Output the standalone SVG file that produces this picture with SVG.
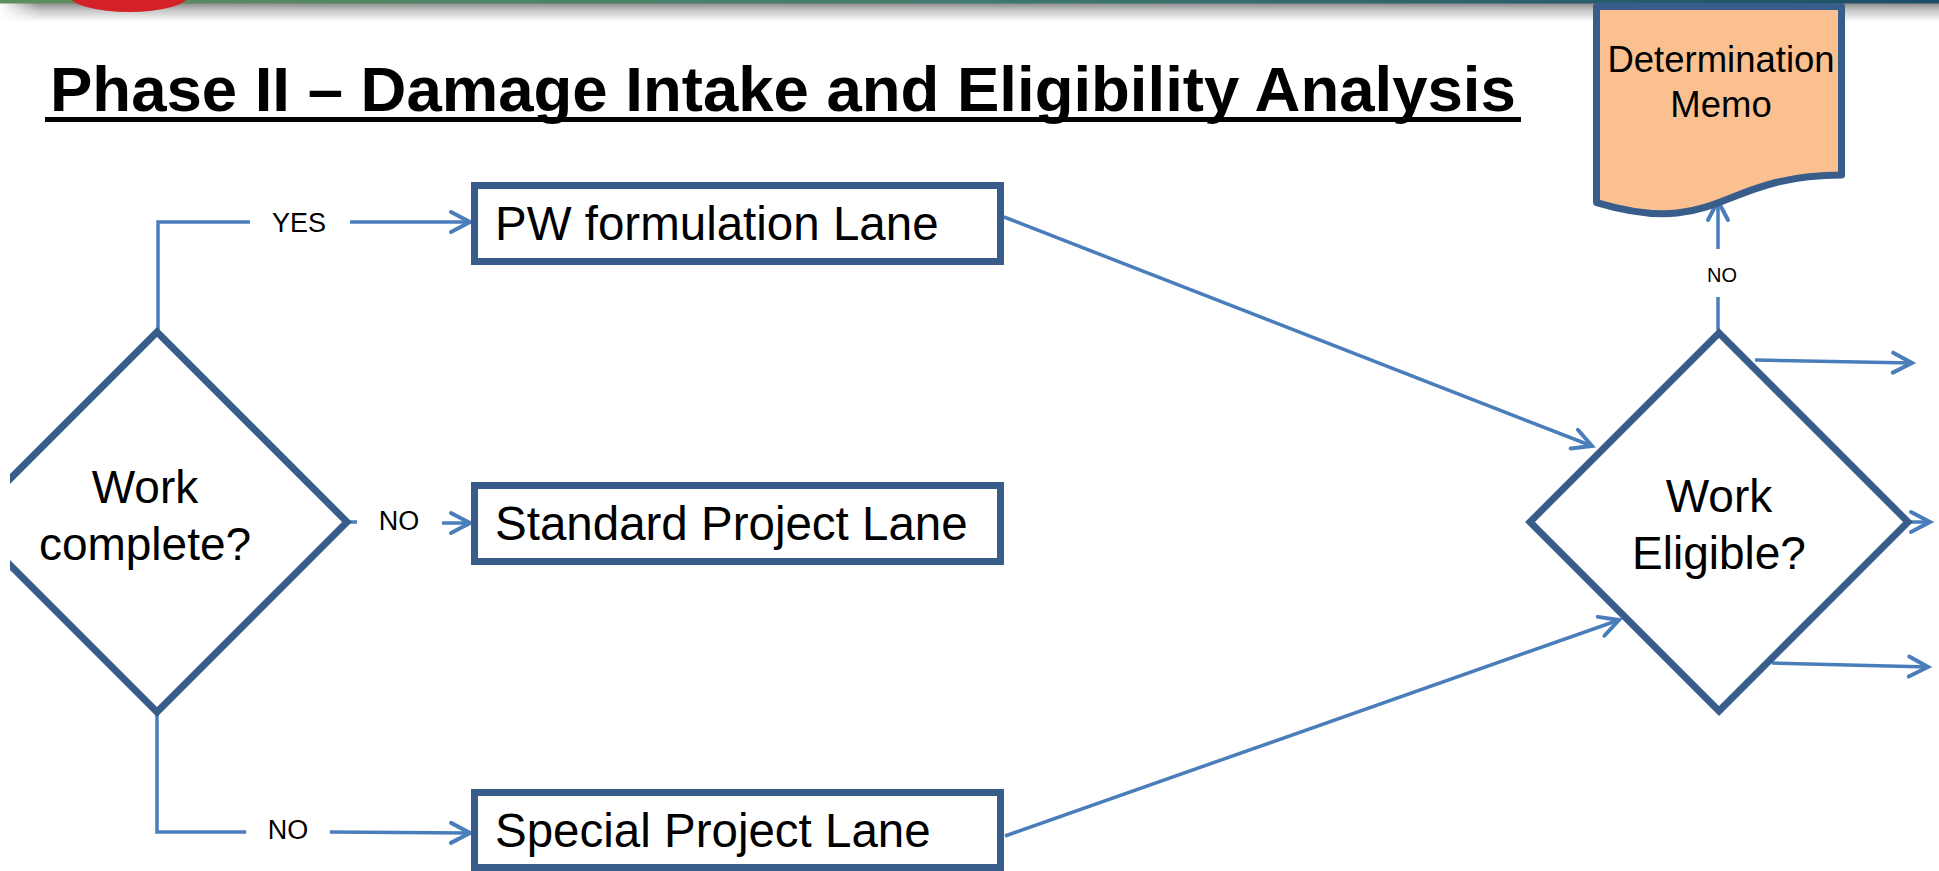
<svg xmlns="http://www.w3.org/2000/svg" width="1939" height="871" viewBox="0 0 1939 871">
<style>
.node{fill:#FFFFFF;stroke:#385D8A;stroke-width:7;stroke-linejoin:miter}
.doc{fill:#FAC090;stroke:#385D8A;stroke-width:7;stroke-linejoin:round}
.conn{fill:none;stroke:#4A7EBB;stroke-width:3.5}
.arr{marker-end:url(#open)}
.big{font-family:"Liberation Sans",Arial,sans-serif;font-size:47.5px;fill:#000}
.dia{font-family:"Liberation Sans",Arial,sans-serif;font-size:46px;fill:#000;text-anchor:middle}
.lbl{font-family:"Liberation Sans",Arial,sans-serif;font-size:27px;fill:#000;text-anchor:middle}
.memo{font-family:"Liberation Sans",Arial,sans-serif;font-size:36.5px;fill:#000;text-anchor:middle}
.title{font-family:"Liberation Sans",Arial,sans-serif;font-size:63.5px;font-weight:bold;fill:#000}
</style>
<defs>
<marker id="open" markerUnits="userSpaceOnUse" viewBox="-25 -15 30 30" markerWidth="30" markerHeight="30" refX="0" refY="0" orient="auto">
<path d="M-19,-10 L0,0 L-19,10" fill="none" stroke="#4A7EBB" stroke-width="4" stroke-linecap="round" stroke-linejoin="miter"/>
</marker>
<linearGradient id="bar" x1="0" y1="0" x2="1" y2="0">
<stop offset="0" stop-color="#5E8F5E"/>
<stop offset="0.5" stop-color="#3F7A6E"/>
<stop offset="1" stop-color="#1C4E68"/>
</linearGradient>
<linearGradient id="shadow" x1="0" y1="0" x2="0" y2="1">
<stop offset="0" stop-color="#8C8C8C"/>
<stop offset="0.4" stop-color="#C8C8C8"/>
<stop offset="1" stop-color="#FFFFFF"/>
</linearGradient>
<linearGradient id="shadowEdge" x1="0" y1="0" x2="1" y2="0">
<stop offset="0" stop-color="#FFFFFF" stop-opacity="1"/>
<stop offset="1" stop-color="#FFFFFF" stop-opacity="0"/>
</linearGradient>
<clipPath id="leftclip"><rect x="10" y="0" width="1929" height="871"/></clipPath>
</defs>
<rect x="0" y="0" width="1939" height="871" fill="#FFFFFF"/>
<g id="header">
<rect x="0" y="3" width="1939" height="19" fill="url(#shadow)"/>
<rect x="0" y="3" width="40" height="19" fill="url(#shadowEdge)"/>
<rect x="0" y="0" width="1939" height="3.5" fill="url(#bar)"/>
<ellipse cx="129" cy="-5" rx="60" ry="17" fill="#D42027"/>
</g>
<g id="title">
<text class="title" x="50" y="111">Phase II – Damage Intake and Eligibility Analysis</text>
<rect x="45" y="117" width="1476" height="5" fill="#000"/>
</g>
<g id="connectors">
<polyline class="conn" points="158,332 158,222 250,222"/>
<line class="conn arr" x1="350" y1="222" x2="470" y2="222"/>
<line class="conn" x1="350" y1="522" x2="357" y2="522"/>
<line class="conn arr" x1="442" y1="523" x2="470" y2="523"/>
<polyline class="conn" points="157,712 157,832 246,832"/>
<line class="conn arr" x1="330" y1="832" x2="470" y2="833"/>
<line class="conn arr" x1="1004" y1="217" x2="1592" y2="446"/>
<line class="conn arr" x1="1005" y1="836" x2="1619" y2="620"/>
<line class="conn arr" x1="1755" y1="360" x2="1912" y2="363"/>
<line class="conn arr" x1="1910" y1="522" x2="1930" y2="522"/>
<line class="conn arr" x1="1772" y1="663" x2="1928" y2="667"/>
<line class="conn" x1="1718" y1="330" x2="1718" y2="297"/>
<line class="conn arr" x1="1718" y1="249" x2="1718" y2="201"/>
<text class="lbl" x="299" y="232">YES</text>
<text class="lbl" x="399" y="530">NO</text>
<text class="lbl" x="288" y="839">NO</text>
<text class="lbl" x="1722" y="282" style="font-size:20px">NO</text>
</g>
<g id="work-complete" clip-path="url(#leftclip)">
<polygon class="node" points="157,332 347,522 157,712 -33,522"/>
<text class="dia" x="145" y="503">Work</text>
<text class="dia" x="145" y="560">complete?</text>
</g>
<g id="pw-lane">
<rect class="node" x="474.5" y="185.5" width="526" height="76"/>
<text class="big" x="495" y="240">PW formulation Lane</text>
</g>
<g id="standard-lane">
<rect class="node" x="474.5" y="485.5" width="526" height="76"/>
<text class="big" x="495" y="540">Standard Project Lane</text>
</g>
<g id="special-lane">
<rect class="node" x="474.5" y="792.5" width="526" height="75"/>
<text class="big" x="495" y="847">Special Project Lane</text>
</g>
<g id="work-eligible">
<polygon class="node" points="1719,333 1908,522 1719,711 1530,522"/>
<text class="dia" x="1719" y="512">Work</text>
<text class="dia" x="1719" y="569">Eligible?</text>
</g>
<g id="determination-memo">
<path class="doc" d="M1596.5,6.5 H1841.5 V175 C1719,175 1719,239 1596.5,202.6 Z"/>
<text class="memo" x="1721" y="72">Determination</text>
<text class="memo" x="1721" y="117">Memo</text>
</g>
</svg>
